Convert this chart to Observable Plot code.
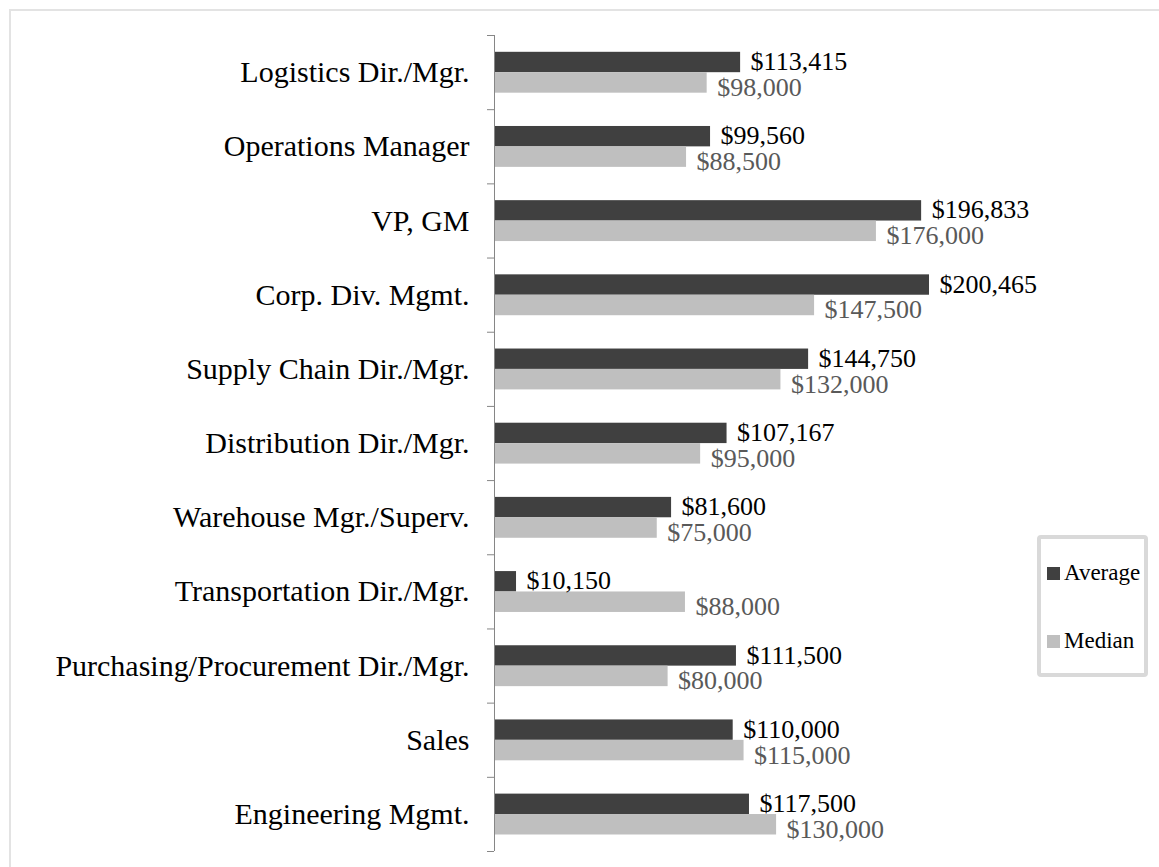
<!DOCTYPE html>
<html>
<head>
<meta charset="utf-8">
<script src="https://cdn.jsdelivr.net/npm/d3@7"></script>
<script src="https://cdn.jsdelivr.net/npm/@observablehq/plot@0.6"></script>
<style>
  html, body { margin: 0; padding: 0; background: #fff; }
  #wrap { position: relative; width: 1159px; height: 867px; overflow: hidden; font-family: "Liberation Serif", serif; }
  #frame { position: absolute; left: 9px; top: 9px; width: 1200px; height: 900px; border-top: 2px solid #e3e3e3; border-left: 2px solid #e3e3e3; }
  #chart { position: absolute; left: 0; top: 0; }
  #legend { position: absolute; left: 1037px; top: 535px; width: 103px; height: 134px; border: 4px solid #d9d9d9; border-radius: 4px; background: #fff; }
  .item { position: absolute; left: 6px; display: flex; align-items: center; font-size: 23px; color: #000; }
  .sw { width: 13px; height: 13px; margin-right: 4px; }
</style>
</head>
<body>
<div id="wrap">
  <div id="frame"></div>
  <div id="chart"></div>
  <div id="legend"></div>
</div>
<script>
const categories = ["Logistics Dir./Mgr.", "Operations Manager", "VP, GM", "Corp. Div. Mgmt.", "Supply Chain Dir./Mgr.", "Distribution Dir./Mgr.", "Warehouse Mgr./Superv.", "Transportation Dir./Mgr.", "Purchasing/Procurement Dir./Mgr.", "Sales", "Engineering Mgmt."];
const average = [113415, 99560, 196833, 200465, 144750, 107167, 81600, 10150, 111500, 110000, 117500];
const median = [98000, 88500, 176000, 147500, 132000, 95000, 75000, 88000, 80000, 115000, 130000];
const seriesNames = ["Average", "Median"];
const seriesColors = ["#404040", "#bfbfbf"];

const rows = categories.map((c, i) => ({category: c, average: average[i], median: median[i]}));
const fmt = v => "$" + d3.format(",")(v);

const W = 1159, H = 867, mT = 35, mB = 16;
const step = (H - mT - mB) / categories.length;

const chart = Plot.plot({
  width: W,
  height: H,
  marginLeft: 494,
  marginRight: 122.5,
  marginTop: mT,
  marginBottom: mB,
  style: {fontFamily: "'Liberation Serif', serif", color: "#000", background: "transparent"},
  x: {domain: [0, 250000], axis: null},
  y: {domain: categories, padding: 0, round: false, axis: null},
  marks: [
    Plot.barX(rows, {y: "category", x: "average", fill: seriesColors[0], insetTop: 16.8, insetBottom: 37}),
    Plot.barX(rows, {y: "category", x: "median", fill: seriesColors[1], insetTop: 37.2, insetBottom: 16.5}),
    Plot.ruleX([0], {stroke: "#868686"}),
    Plot.ruleY(categories, {y: d => d, x1: 0, x2: 0, insetLeft: -7, dy: -step / 2, stroke: "#868686"}),
    Plot.ruleY(categories.slice(-1), {y: d => d, x1: 0, x2: 0, insetLeft: -7, dy: step / 2, stroke: "#868686"}),
    Plot.text(rows, {y: "category", x: "average", text: d => fmt(d.average), dx: 10, dy: -10.8, textAnchor: "start", fill: "#000", fontSize: 26}),
    Plot.text(rows, {y: "category", x: "median", text: d => fmt(d.median), dx: 10, dy: 15, textAnchor: "start", fill: "#595959", fontSize: 26}),
    Plot.axisY({tickSize: 0, tickPadding: 25, fontSize: 30, label: null})
  ]
});
document.getElementById("chart").appendChild(chart);

const legend = document.getElementById("legend");
seriesNames.forEach((name, i) => {
  const item = document.createElement("div");
  item.className = "item";
  item.style.top = (i === 0 ? 21 : 89) + "px";
  const sw = document.createElement("span");
  sw.className = "sw";
  sw.style.background = seriesColors[i];
  const t = document.createElement("span");
  t.textContent = name;
  item.appendChild(sw);
  item.appendChild(t);
  legend.appendChild(item);
});
</script>
</body>
</html>
